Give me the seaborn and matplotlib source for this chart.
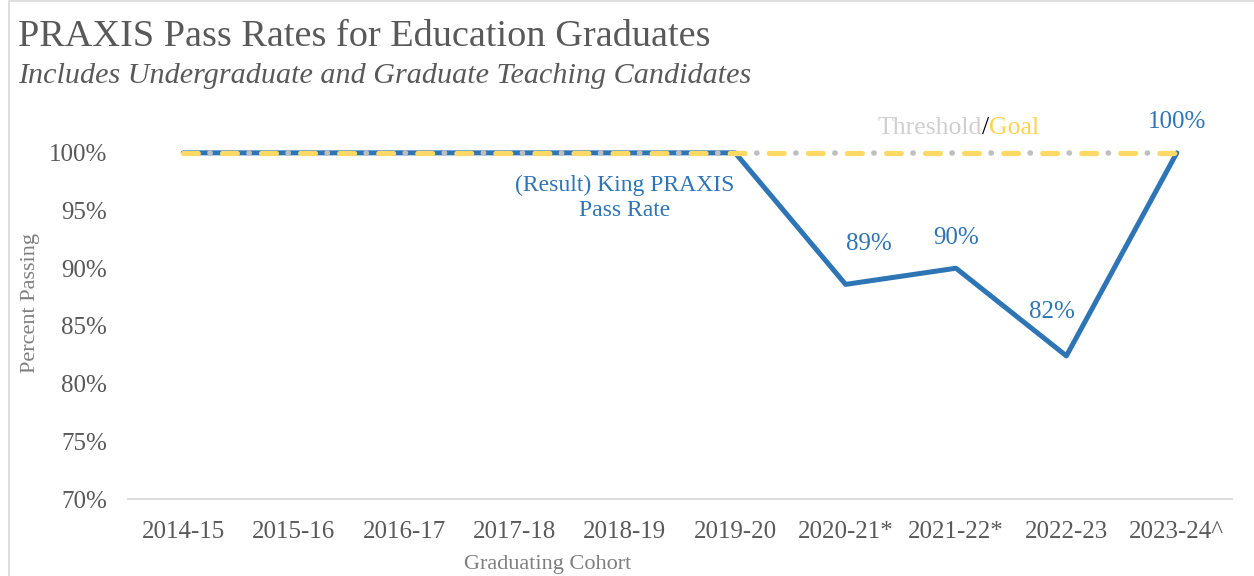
import pandas as pd
import numpy as np
import matplotlib.pyplot as plt
import matplotlib.patches as mpatches
import seaborn as sns

cohorts = ["2014-15", "2015-16", "2016-17", "2017-18", "2018-19", "2019-20",
           "2020-21*", "2021-22*", "2022-23", "2023-24^"]
pass_rate = [100, 100, 100, 100, 100, 100, 88.6, 90.0, 82.4, 100]
threshold = [100] * 10
goal = [100] * 10
point_labels = {6: "89%", 7: "90%", 8: "82%", 9: "100%"}
# label offsets in pixels (dx, dy)
label_offsets = {6: (23, 40), 7: (0, 30), 8: (-14, 44), 9: (0, 31)}

BLUE = "#2E75B6"
GRAY_TXT = "#595959"
THR_GRAY = "#BFBFBF"
GOLD = "#FFD966"

sns.set_theme(style="white")
plt.rcParams['font.family'] = ['Liberation Serif', 'DejaVu Serif']

df = pd.DataFrame({"cohort": cohorts, "rate": pass_rate,
                   "threshold": threshold, "goal": goal})

fig = plt.figure(figsize=(12.54, 5.76), dpi=100)
ax = fig.add_axes([128 / 1254, 1 - 499 / 576, (1232 - 128) / 1254, (499 - 124) / 576])

sns.lineplot(data=df, x="cohort", y="rate", sort=False, color=BLUE, lw=3.6,
             ax=ax, zorder=3)

# goal dashes: 2.8 on / 4.6 off (x lw 3.8pt) -> period ~28.1pt
goal_lw = 3.8
period_pt = (2.8 + 4.6) * goal_lw
gap_mid_pt = 2.8 * goal_lw + 4.6 * goal_lw / 2

thr_lw = 4.0
n = len(ax.lines)
sns.lineplot(data=df, x="cohort", y="threshold", sort=False, color=THR_GRAY,
             lw=thr_lw, ax=ax, zorder=4)
thr_line = ax.lines[n]
p = period_pt / thr_lw
thr_line.set_linestyle((p - gap_mid_pt / thr_lw, (0.05, p - 0.05)))
thr_line.set_dash_capstyle("round")

n = len(ax.lines)
sns.lineplot(data=df, x="cohort", y="goal", sort=False, color=GOLD,
             lw=goal_lw, ax=ax, zorder=5)
goal_line = ax.lines[n]
goal_line.set_linestyle((0, (2.8, 4.6)))
goal_line.set_dash_capstyle("round")

ax.set_xlim(-0.5, len(cohorts) - 0.5)
ax.set_ylim(70, 102.5)
ax.set_yticks([70, 75, 80, 85, 90, 95, 100])
ax.set_yticklabels([f"{t}%" for t in [70, 75, 80, 85, 90, 95, 100]])
ax.tick_params(axis="both", length=0, labelsize=18, colors=GRAY_TXT)
ax.tick_params(axis="y", pad=15)
ax.tick_params(axis="x", pad=16)
for s in ["top", "right", "left"]:
    ax.spines[s].set_visible(False)
ax.spines["bottom"].set_color("#D9D9D9")
ax.spines["bottom"].set_linewidth(1.3)
ax.set_xlabel("")
ax.set_ylabel("")

for i, txt in point_labels.items():
    dx, dy = label_offsets[i]
    ax.annotate(txt, (i, pass_rate[i]), xytext=(dx * 0.72, dy * 0.72),
                textcoords="offset points", ha="center", va="center",
                color=BLUE, fontsize=18)

ax.text(4.0, 96.1, "(Result) King PRAXIS\nPass Rate", ha="center", va="center",
        color=BLUE, fontsize=17, linespacing=1.3)

# Threshold / Goal label
t1 = ax.annotate("Threshold", (7.235, 102.17), ha="right", va="center",
                 color="#D0D0D0", fontsize=18.5)
fig.canvas.draw()
t2 = ax.annotate("/", xy=(1, 0.5), xycoords=t1, ha="left", va="center",
                 color="black", fontsize=18.5)
ax.annotate("Goal", xy=(1, 0.5), xycoords=t2, ha="left", va="center",
            color="#FFD34D", fontsize=18.5)

fig.text(18 / 1254, 1 - 37 / 576, "PRAXIS Pass Rates for Education Graduates",
         fontsize=27.5, color=GRAY_TXT, va="center", ha="left")
fig.text(18 / 1254, 1 - 76 / 576,
         "Includes Undergraduate and Graduate Teaching Candidates",
         fontsize=21.7, color=GRAY_TXT, style="italic", va="center", ha="left")
fig.text(30 / 1254, 1 - 303 / 576, "Percent Passing", rotation=90,
         fontsize=16, color="#7F7F7F", va="center", ha="center")
fig.text(548 / 1254, 1 - 564 / 576, "Graduating Cohort",
         fontsize=16, color="#7F7F7F", va="center", ha="center")

fig.patches.append(mpatches.Rectangle((9 / 1254, -0.01), 1.1, 1.0 - 1 / 576 + 0.01,
                                      transform=fig.transFigure, fill=False,
                                      edgecolor="#D9D9D9", lw=1.2))

fig.savefig("out.png", dpi=100)
